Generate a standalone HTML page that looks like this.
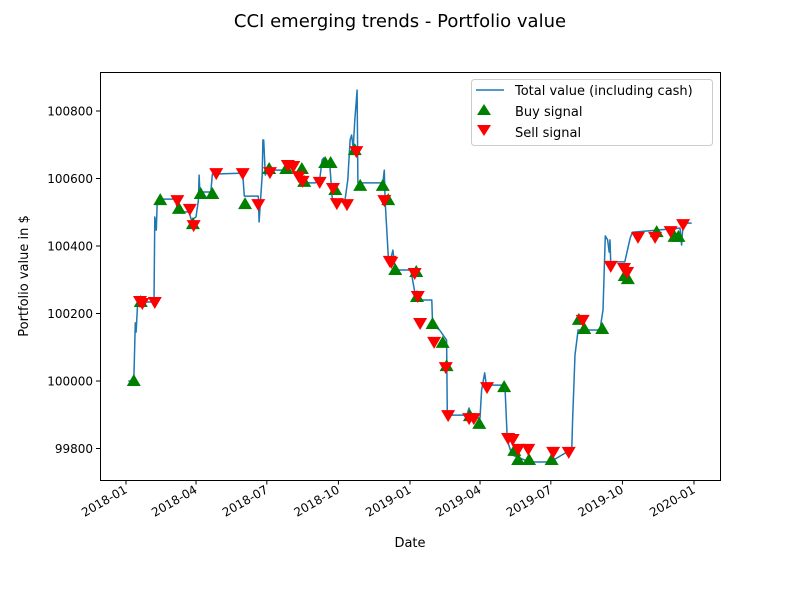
<!DOCTYPE html>
<html><head><meta charset="utf-8"><style>
body{margin:0;background:#fff;}
svg{display:block;font-family:"DejaVu Sans","Liberation Sans",sans-serif;}
</style></head><body>
<svg id="chart" width="800" height="600" viewBox="0 0 800 600" xmlns="http://www.w3.org/2000/svg">
<rect width="800" height="600" fill="#fff"/>
<text x="400" y="27" text-anchor="middle" font-size="18">CCI emerging trends - Portfolio value</text>
<g id="grid"></g>
<g id="series"></g>
<rect x="100.5" y="72.5" width="620" height="408" fill="none" stroke="#000" stroke-width="1"/>
<g id="xaxis"></g><g id="yaxis"></g>
<text x="410" y="547" text-anchor="middle" font-size="13">Date</text>
<text transform="translate(28,276) rotate(-90)" text-anchor="middle" font-size="13">Portfolio value in $</text>
<g>
<rect x="471.5" y="79.5" width="241" height="66" rx="3" fill="#fff" fill-opacity="0.8" stroke="#ccc"/>
<line x1="476" y1="90" x2="504" y2="90" stroke="#1f77b4" stroke-width="1.5"/>
<text x="515" y="95" font-size="13">Total value (including cash)</text>
<polygon points="484,104 491,115 477,115" fill="green"/>
<text x="515" y="116" font-size="13">Buy signal</text>
<polygon points="477,125 491,125 484,136" fill="red"/>
<text x="515" y="137" font-size="13">Sell signal</text>
</g>
</svg>
<script>
// days since 2018-01-01
const lineDays=[3,10,12,13,15,36,37,39,40,42,64,66,81,84,90,93,94,95,109,111,150,152,170,171,175,176,177,179,182,204,206,211,224,243,249,252,254,262,265,281,285,288,290,292,294,297,298,330,332,333,337,339,343,346,366,373,393,394,403,412,413,438,441,442,455,457,461,463,487,490,496,519,545,567,573,574,577,581,609,613,616,619,621,622,623,641,648,651,712,714,716,727];
const lineValues=[100000,100000,100172,100145,100234,100234,100486,100447,100521,100539,100539,100501,100501,100477,100486,100536,100610,100560,100560,100613,100616,100548,100548,100471,100610,100714,100714,100610,100625,100625,100640,100634,100587,100587,100596,100655,100661,100637,100542,100527,100596,100714,100729,100690,100773,100862,100587,100587,100625,100536,100373,100350,100388,100329,100329,100240,100240,100166,100151,100121,99899,99899,99920,99890,99890,99973,100024,99988,99988,99825,99781,99760,99760,99790,99801,99884,100077,100151,100151,100210,100430,100418,100382,100418,100353,100353,100424,100441,100453,100403,100468,100468];
const buyDays=[10,19,44,68,86,96,111,153,184,206,226,229,256,263,269,294,301,330,337,346,373,374,394,407,412,442,454,486,499,504,518,547,582,589,612,641,645,682,705,710];
const buyValues=[100000,100234,100536,100510,100465,100554,100554,100524,100628,100628,100628,100590,100646,100646,100566,100684,100578,100578,100536,100329,100323,100249,100169,100113,100044,99896,99873,99982,99793,99766,99766,99766,100181,100154,100154,100311,100302,100441,100427,100427];
const sellDays=[18,21,37,66,82,87,116,150,170,185,208,215,222,227,249,266,271,284,296,332,339,341,371,375,378,396,411,414,441,447,464,491,497,504,517,549,569,587,623,640,644,658,680,700,716];
const sellValues=[100237,100231,100234,100536,100510,100462,100616,100616,100524,100619,100640,100637,100607,100593,100590,100572,100527,100524,100681,100536,100356,100353,100320,100252,100172,100116,100041,99899,99890,99890,99982,99831,99828,99799,99799,99790,99790,100181,100341,100335,100323,100427,100427,100444,100465];
const xTickDays=[0,90,181,273,365,455,546,638,730];
const xTickLabels=["2018-01","2018-04","2018-07","2018-10","2019-01","2019-04","2019-07","2019-10","2020-01"];
const yTicks=[99800,100000,100200,100400,100600,100800];

const NS="http://www.w3.org/2000/svg";
const xs=d=>126+d*568/730;
const ys=v=>381-(v-100000)*67.5/200;
function mk(tag,attrs,parent){const e=document.createElementNS(NS,tag);for(const k in attrs)e.setAttribute(k,attrs[k]);parent.appendChild(e);return e;}
const xa=document.getElementById('xaxis'),ya=document.getElementById('yaxis'),se=document.getElementById('series');
xTickDays.forEach((d,i)=>{
  const x=xs(d);
  const t=mk('line',{x1:x,y1:480.5,x2:x,y2:484.5,stroke:'#000'},xa);
  
  
  const l=mk('text',{x:x+2,y:492,'font-size':12,'text-anchor':'end',transform:`rotate(-30 ${x+2} 492)`},xa);
  l.textContent=xTickLabels[i];
  
  
});
yTicks.forEach(v=>{
  const y=ys(v);
  const t=mk('line',{x1:96,y1:y,x2:100.5,y2:y,stroke:'#000'},ya);
  
  
  const l=mk('text',{x:93,y:y+4.5,'font-size':12,'text-anchor':'end'},ya);
  l.textContent=v;
  
  
});
const pts=lineDays.map((d,i)=>xs(d).toFixed(1)+','+ys(lineValues[i]).toFixed(1)).join(' ');
const pl=mk('polyline',{points:pts,fill:'none',stroke:'#1f77b4','stroke-width':1.5,'stroke-linejoin':'round'},se);


buyDays.forEach((d,i)=>{
  const x=xs(d),y=ys(buyValues[i]);
  const p=mk('polygon',{points:`${x},${y-7} ${x+7},${y+5} ${x-7},${y+5}`,fill:'green'},se);
  
  
});
sellDays.forEach((d,i)=>{
  const x=xs(d),y=ys(sellValues[i]);
  const p=mk('polygon',{points:`${x-7},${y-5} ${x+7},${y-5} ${x},${y+7}`,fill:'red'},se);
  
  
});
</script>
</body></html>
